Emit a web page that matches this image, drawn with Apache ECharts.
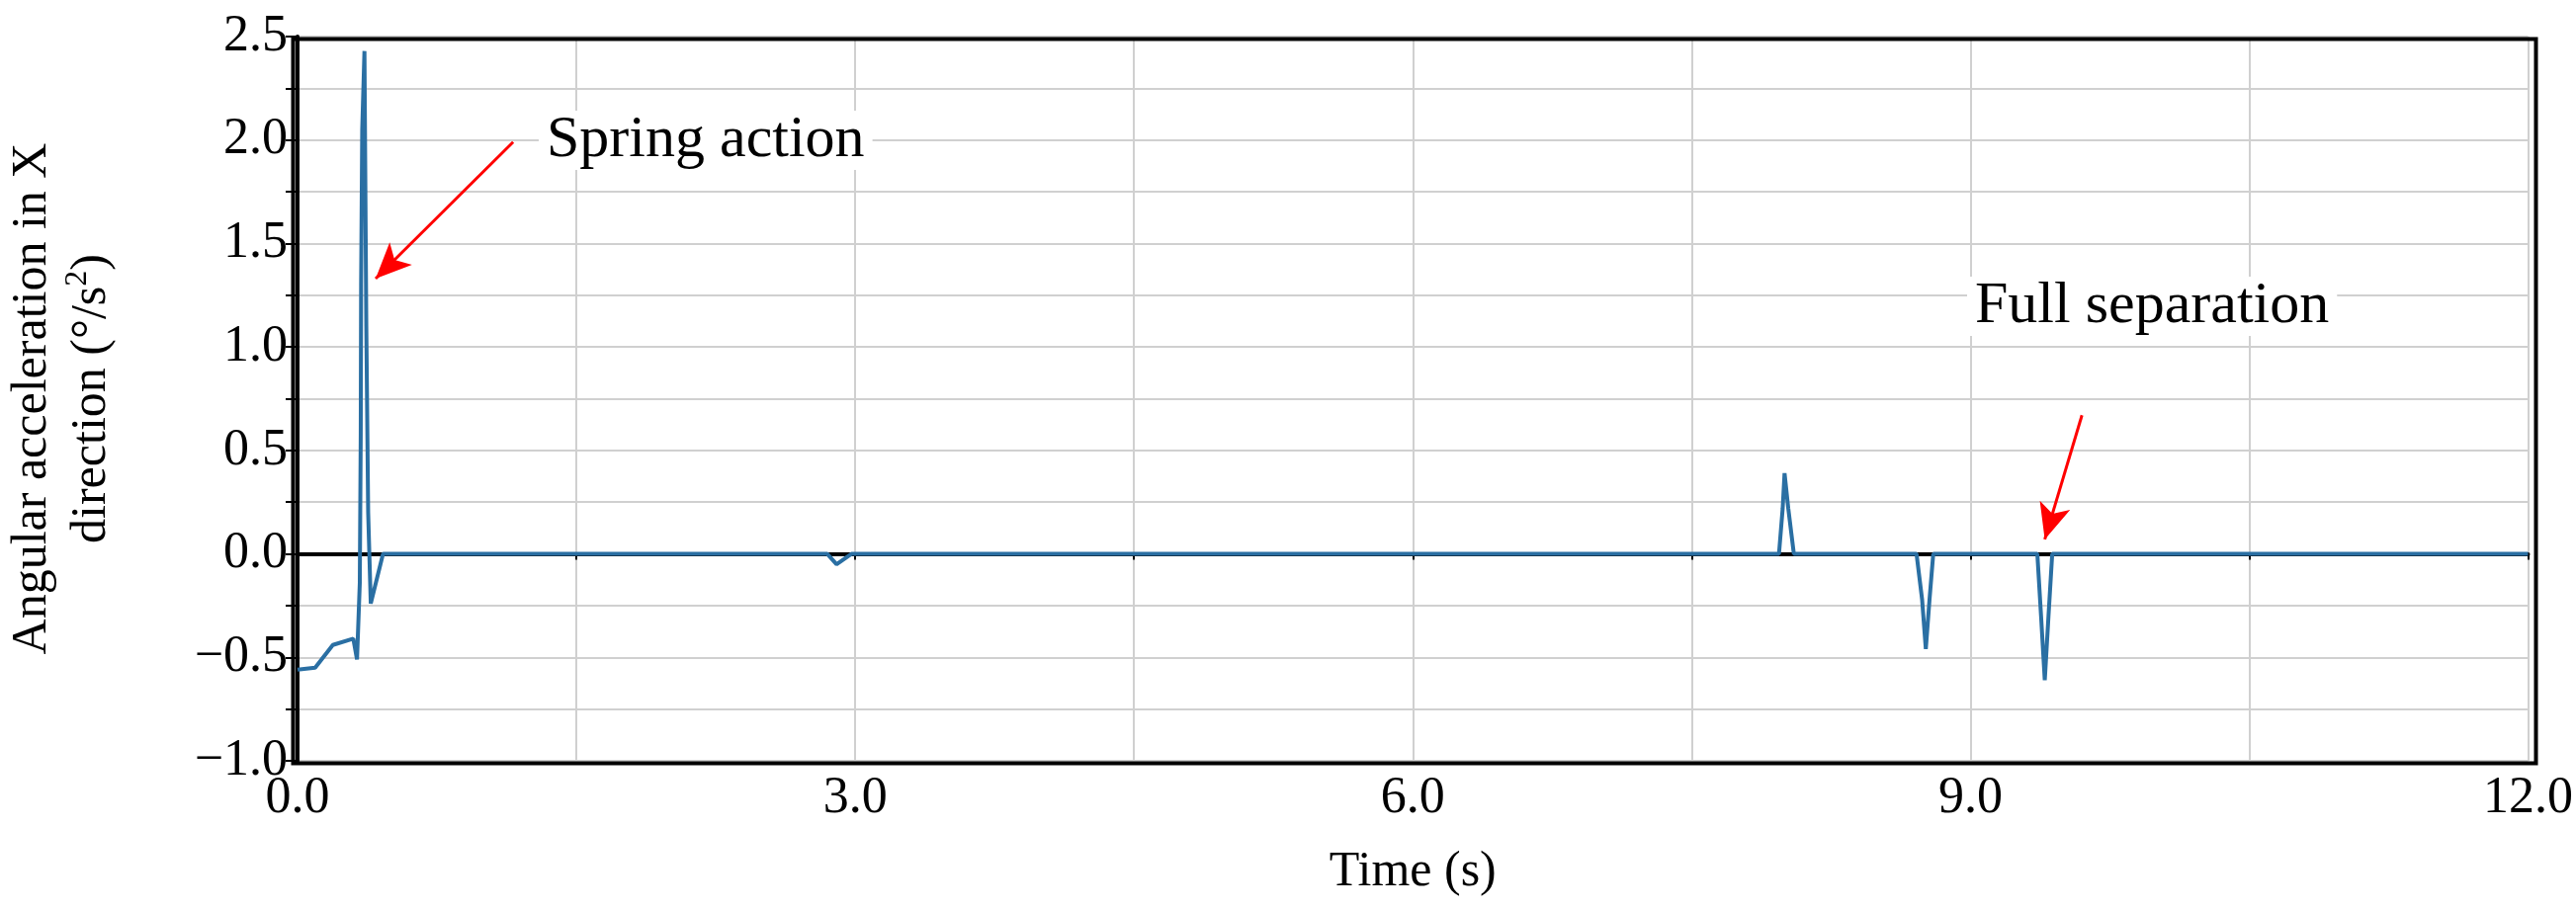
<!DOCTYPE html>
<html><head><meta charset="utf-8">
<script src="https://cdn.jsdelivr.net/npm/echarts@6/dist/echarts.min.js"></script>
<style>html,body{margin:0;padding:0;background:#fff}#c{width:2606px;height:921px}</style>
</head><body><div id="c"></div>
<script>
var timeS = [0,0.095,0.19,0.30,0.32,0.335,0.34,0.342,0.348,0.36,0.37,0.38,0.394,0.46,2.85,2.9,2.98,7.97,7.99,8.0,8.02,8.05,8.71,8.74,8.76,8.78,8.80,9.36,9.38,9.40,9.42,9.44,12.0];
var accel = [-0.56,-0.55,-0.44,-0.41,-0.51,-0.14,0.58,1.3,2.05,2.43,1.1,0.2,-0.24,0,0,-0.05,0,0,0.22,0.39,0.22,0,0,-0.22,-0.46,-0.22,0,0,-0.3,-0.61,-0.3,0,0];
var xTicks = [0,3,6,9,12];
var yTicks = [-1,-0.5,0,0.5,1,1.5,2,2.5];
var annotations = [
  {text:'Spring action', from:[1.16,1.99], to:[0.42,1.33]},
  {text:'Full separation', from:[9.60,0.67], to:[9.40,0.07]}
];
var F = 'Liberation Serif, Times New Roman, serif';
var chart = echarts.init(document.getElementById('c'));
var data = timeS.map(function(t,i){return [t,accel[i]];});
chart.setOption({
  animation:false,
  grid:{left:294,right:43,top:37,bottom:151},
  xAxis:{type:'value',min:0,max:12,interval:1.5,name:'Time (s)',nameLocation:'middle',nameGap:88,
    nameTextStyle:{fontFamily:F,fontSize:50,color:'#000'},
    axisLine:{show:true,lineStyle:{color:'#000',width:4}},
    axisTick:{show:true,length:6,lineStyle:{color:'#000',width:2}},
    axisLabel:{fontFamily:F,fontSize:52,color:'#000',margin:12,
      formatter:function(v){return xTicks.indexOf(v)>=0?v.toFixed(1):'';}},
    splitLine:{show:true,lineStyle:{color:'#d0d0d0',width:2}}},
  yAxis:{type:'value',min:-1,max:2.5,interval:0.25,
    name:'{a|Angular acceleration in X}\n{a|direction (°/s}{s|2}{a|)}',nameLocation:'middle',nameGap:178,
    nameTextStyle:{rich:{a:{fontFamily:F,fontSize:50,color:'#000',lineHeight:60},s:{fontFamily:F,fontSize:32,color:'#000',verticalAlign:'top',lineHeight:60}}},
    axisLine:{show:true,lineStyle:{color:'#000',width:4}},
    axisTick:{show:true,length:12,lineStyle:{color:'#000',width:2}},
    axisLabel:{fontFamily:F,fontSize:52,color:'#000',margin:10,
      formatter:function(v){return yTicks.indexOf(v)>=0?(v<0?'\u2212'+(-v).toFixed(1):v.toFixed(1)):'';}},
    splitLine:{show:true,lineStyle:{color:'#d0d0d0',width:2}}},
  series:[{type:'line',data:data,symbol:'none',lineStyle:{color:'#2a6fa3',width:4},
    markLine:{silent:true,symbol:['none','arrow'],symbolSize:[24,36],label:{show:false},
      lineStyle:{color:'#ff0000',width:3,type:'solid'},
      data:annotations.map(function(a){return [{coord:a.from},{coord:a.to}];})}}],
  graphic:[
    {type:'text',left:545,top:112,z:100,style:{text:annotations[0].text,fontFamily:F,fontSize:60,fill:'#000',backgroundColor:'#fff',padding:[0,8]}},
    {type:'text',left:1990,top:280,z:100,style:{text:annotations[1].text,fontFamily:F,fontSize:60,fill:'#000',backgroundColor:'#fff',padding:[0,8]}},
    {type:'rect',left:294,top:37,shape:{width:2269,height:733},z:50,style:{fill:'none',stroke:'#000',lineWidth:4}}
  ]
});
</script></body></html>
